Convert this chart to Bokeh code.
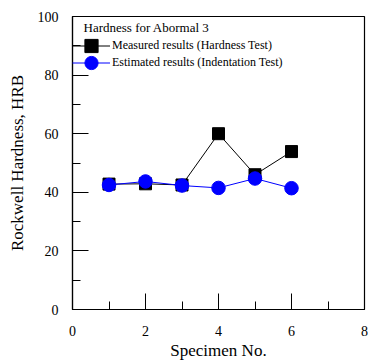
from bokeh.plotting import figure
from bokeh.models import Legend, LegendItem, Label, FixedTicker, Range1d
from bokeh.embed import file_html
from bokeh.resources import INLINE

specimen = [1, 2, 3, 4, 5, 6]
measured = [42.8, 42.9, 42.5, 60.0, 46.0, 53.9]
estimated = [42.5, 43.7, 42.3, 41.5, 44.7, 41.4]
x_ticks = [0, 2, 4, 6, 8]
y_ticks = [0, 20, 40, 60, 80, 100]
title_text = "Hardness for Abormal 3"
measured_label = "Measured results (Hardness Test)"
estimated_label = "Estimated results (Indentation Test)"

FONT = "Liberation Serif"

p = figure(width=368, height=363, output_backend="svg", toolbar_location=None,
           x_range=Range1d(0, 8), y_range=Range1d(0, 100),
           min_border_left=72, min_border_right=4, min_border_top=16, min_border_bottom=54)
p.grid.visible = False
p.outline_line_color = "black"
p.outline_line_width = 1.2
p.background_fill_color = "white"
p.border_fill_color = "white"

for ax in (p.xaxis[0], p.yaxis[0]):
    ax.major_tick_in = 16
    ax.major_tick_out = 0
    ax.minor_tick_in = 8
    ax.minor_tick_out = 0
    ax.axis_line_color = "black"
    ax.axis_line_width = 1.2
    ax.major_tick_line_color = "black"
    ax.minor_tick_line_color = "black"
    ax.major_label_text_font = FONT
    ax.major_label_text_font_size = "14px"
    ax.major_label_text_color = "black"
    ax.axis_label_text_font = FONT
    ax.axis_label_text_font_size = "17px"
    ax.axis_label_text_font_style = "normal"
    ax.axis_label_text_color = "black"

p.xaxis.ticker = FixedTicker(ticks=x_ticks, minor_ticks=[1, 3, 5, 7])
p.yaxis.ticker = FixedTicker(ticks=y_ticks, minor_ticks=[10, 30, 50, 70, 90])
p.xaxis.major_label_standoff = 16
p.yaxis.major_label_standoff = 14
p.xaxis.axis_label = "Specimen No."
p.yaxis.axis_label = "Rockwell Hardness, HRB"
p.xaxis.axis_label_standoff = 2
p.yaxis.axis_label_standoff = 8

l1 = p.line(specimen, measured, line_color="black", line_width=1)
m1 = p.scatter(specimen, measured, marker="square", size=12, fill_color="black", line_color="black")
l2 = p.line(specimen, estimated, line_color="blue", line_width=1)
m2 = p.scatter(specimen, estimated, marker="circle", size=13.5, fill_color="blue", line_color="blue")

legend_style = dict(padding=0, margin=0, spacing=0,
                    border_line_color=None, background_fill_alpha=0,
                    glyph_width=38, glyph_height=33, label_height=17, label_standoff=2,
                    label_text_font=FONT, label_text_font_size="12px", label_text_color="black")
leg1 = Legend(items=[LegendItem(label=measured_label, renderers=[l1, m1])],
              location=(0, 247), **legend_style)
leg2 = Legend(items=[LegendItem(label=estimated_label, renderers=[l2, m2])],
              location=(0, 230), **legend_style)
p.add_layout(leg1)
p.add_layout(leg2)

p.add_layout(Label(x=11, y=282, x_units="screen", y_units="screen", text=title_text,
                   text_font=FONT, text_font_size="13px", text_color="black",
                   text_baseline="middle"))

open("out.html", "w").write(file_html(p, INLINE))
